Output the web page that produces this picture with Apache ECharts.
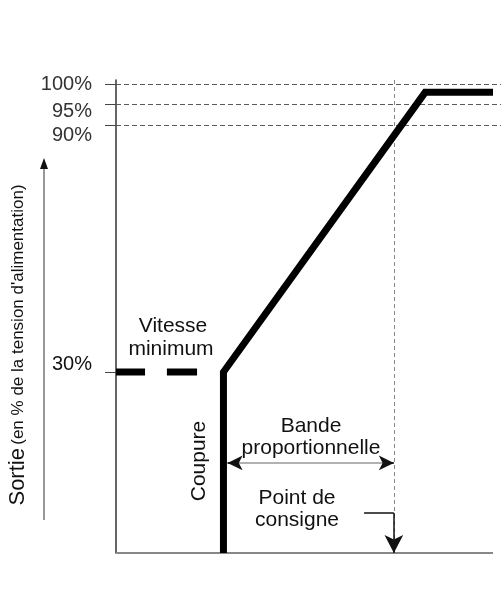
<!DOCTYPE html>
<html><head><meta charset="utf-8">
<script src="https://cdn.jsdelivr.net/npm/echarts@6/dist/echarts.min.js"></script>
<style>html,body{margin:0;padding:0;background:#fff}#c{width:501px;height:605px}</style>
</head><body><div id="c"></div>
<script>
// ---- data ----
const yTickValues = [30, 90, 95, 100];
const yTickLabels = ['30%', '90%', '95%', '100%'];
const refLevels = [90, 95, 100];
const curveX = [28.5, 28.5, 82, 100];
const curveY = [-14, 30, 98, 98];
const minSpeedStart = [0, 13.5];
const minSpeedEnd = [7.7, 21.5];
const minSpeedLevel = 30;
const setpointX = 73.7;
const bandLevel = 7.9;
const bandStartX = 29.6;
const setpointArrowX = 65.8;
const setpointArrowY = -4.3;
const yMin = -14, yMax = 101, xMin = 0, xMax = 102.12, xEnd = 100;

const FONT = '"Liberation Sans", Arial, sans-serif';
const chart = echarts.init(document.getElementById('c'), null, {renderer: 'canvas'});

const labelClass = {30: 'up', 90: 'dn2', 95: 'dn1', 100: 'n'};

const series = [];
series.push({
  type: 'line', data: curveX.map((x, i) => [x, curveY[i]]),
  symbol: 'none', z: 5, silent: true,
  lineStyle: {color: '#000', width: 7, join: 'miter', cap: 'butt'}
});
minSpeedStart.forEach((s, i) => {
  series.push({
    type: 'line', data: [[s, minSpeedLevel], [minSpeedEnd[i], minSpeedLevel]],
    symbol: 'none', z: 5, silent: true,
    lineStyle: {color: '#000', width: 7, cap: 'butt'}
  });
});
// reference dashed levels
series.push({
  type: 'line', data: [], silent: true,
  markLine: {
    silent: true, symbol: 'none', label: {show: false}, animation: false,
    lineStyle: {color: '#5a5a5a', width: 1, type: [5, 3]},
    data: refLevels.map(v => [{coord: [xMin, v]}, {coord: [xMax, v]}])
  }
});
// setpoint vertical dashed
series.push({
  type: 'line', data: [], silent: true,
  markLine: {
    silent: true, symbol: 'none', label: {show: false}, animation: false,
    lineStyle: {color: '#888', width: 1, type: [4, 3]},
    data: [[{coord: [setpointX, yMax]}, {coord: [setpointX, yMin]}]]
  }
});
// x baseline
series.push({
  type: 'line', data: [], silent: true,
  markLine: {
    silent: true, symbol: 'none', label: {show: false}, animation: false,
    lineStyle: {color: '#888', width: 2, type: 'solid'},
    data: [[{coord: [xMin, yMin]}, {coord: [xEnd, yMin]}]]
  }
});
// bande proportionnelle arrow: grey shaft
series.push({
  type: 'line', data: [], silent: true,
  markLine: {
    silent: true, symbol: 'none', label: {show: false}, animation: false,
    lineStyle: {color: '#999', width: 1.5, type: 'solid'},
    data: [[{coord: [bandStartX, bandLevel]}, {coord: [setpointX, bandLevel]}]]
  }
});
// black arrow heads
series.push({
  type: 'line', data: [], silent: true,
  markLine: {
    silent: true, symbol: ['none', 'arrow'], symbolSize: [11, 15], label: {show: false}, animation: false,
    lineStyle: {color: '#111', width: 1.5, type: 'solid'},
    data: [
      [{coord: [bandStartX + 0.8, bandLevel]}, {coord: [bandStartX, bandLevel]}],
      [{coord: [setpointX - 0.8, bandLevel]}, {coord: [setpointX, bandLevel]}]
    ]
  }
});
// setpoint arrow
series.push({
  type: 'line', data: [], silent: true,
  markLine: {
    silent: true, symbol: 'none', label: {show: false}, animation: false,
    lineStyle: {color: '#111', width: 1.5, type: 'solid'},
    data: [[{coord: [setpointArrowX, setpointArrowY]}, {coord: [setpointX, setpointArrowY]}]]
  }
});
series.push({
  type: 'line', data: [], silent: true,
  markLine: {
    silent: true, symbol: ['none', 'arrow'], symbolSize: [14, 18], label: {show: false}, animation: false,
    lineStyle: {color: '#111', width: 1.5, type: 'solid'},
    data: [[{coord: [setpointX, setpointArrowY]}, {coord: [setpointX, yMin]}]]
  }
});

const txt = (x, y, text, size, extra) => Object.assign({
  type: 'text', x: x, y: y, silent: true,
  style: {text: text, fill: '#111', font: size + 'px ' + FONT, align: 'center', verticalAlign: 'middle'}
}, extra || {});

chart.setOption({
  animation: false,
  backgroundColor: '#fff',
  grid: {left: 116, right: 0, top: 80, bottom: 52},
  xAxis: {type: 'value', min: xMin, max: xMax, show: false},
  yAxis: {
    type: 'value', min: yMin, max: yMax,
    axisLine: {show: true, lineStyle: {color: '#333', width: 1.5}},
    axisTick: {show: true, customValues: yTickValues, length: 11, lineStyle: {color: '#444', width: 1}},
    splitLine: {show: false},
    axisLabel: {
      customValues: yTickValues, margin: 24, color: '#333', fontSize: 20, fontFamily: FONT,
      formatter: v => '{' + labelClass[v] + '|' + yTickLabels[yTickValues.indexOf(v)] + '}',
      rich: {
        n: {fontSize: 20, fontFamily: FONT, color: '#333'},
        dn1: {fontSize: 20, fontFamily: FONT, color: '#333', padding: [14, 0, 0, 0]},
        dn2: {fontSize: 20, fontFamily: FONT, color: '#333', padding: [20, 0, 0, 0]},
        up: {fontSize: 20, fontFamily: FONT, color: '#111', padding: [0, 0, 16, 0]}
      }
    }
  },
  series: series,
  graphic: [
    txt(173, 326, 'Vitesse', 21),
    txt(171, 349, 'minimum', 21),
    txt(311, 426, 'Bande', 21),
    txt(311, 448, 'proportionnelle', 21),
    txt(297, 498, 'Point de', 21),
    txt(297, 520, 'consigne', 21),
    txt(199, 461, 'Coupure', 21, {rotation: Math.PI / 2}),
    {
      type: 'text', x: 18, y: 345, rotation: Math.PI / 2, silent: true,
      style: {
        text: '{a|Sortie} {b|(en % de la tension d\'alimentation)}',
        align: 'center', verticalAlign: 'middle', fill: '#111',
        rich: {
          a: {fontSize: 22, fontFamily: FONT, fill: '#111'},
          b: {fontSize: 17, fontFamily: FONT, fill: '#111'}
        }
      }
    },
    {type: 'line', silent: true, shape: {x1: 44, y1: 520, x2: 44, y2: 166}, style: {stroke: '#333', lineWidth: 1}},
    {type: 'polygon', silent: true, shape: {points: [[44, 158], [40, 169], [48, 169]]}, style: {fill: '#111'}}
  ]
});
</script></body></html>
